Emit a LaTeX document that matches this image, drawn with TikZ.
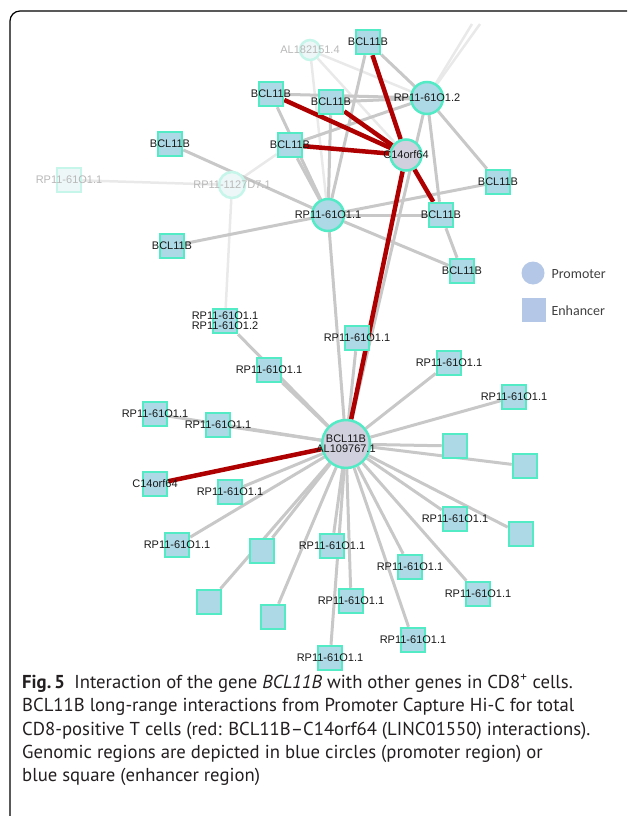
\documentclass[tikz,border=0pt]{standalone}
\usepackage{fontspec}
\setmainfont{PT Sans}
\newfontfamily\labfont{Liberation Sans}
\newfontfamily\legfont{Carlito}
\usepackage{xcolor}
\usepackage{tikz}
\usetikzlibrary{backgrounds}
\definecolor{sqfill}{HTML}{ADD8E6}
\definecolor{rim}{HTML}{52EBC5}
\definecolor{lavfill}{HTML}{D0D0DE}
\definecolor{linkgray}{HTML}{C8C8C8}
\definecolor{fadegray}{HTML}{E9E9E9}
\definecolor{hot}{HTML}{AE0000}
\definecolor{legblue}{HTML}{B4C7E7}
\definecolor{captext}{HTML}{231F20}
\definecolor{ghostrim}{HTML}{C6F5EA}
\definecolor{ghostfill}{HTML}{EEF7F8}
\tikzset{
  enh/.style={rectangle, draw=rim, fill=sqfill, line width=2.5pt, minimum size=24pt, inner sep=0pt},
  prom/.style={circle, draw=rim, fill=sqfill, line width=2.5pt, minimum size=32pt, inner sep=0pt},
  lav/.style={prom, fill=lavfill},
  ghostsq/.style={enh, draw=ghostrim, fill=ghostfill},
  ghostc/.style={circle, draw=ghostrim, fill=ghostfill, line width=2.5pt, inner sep=0pt},
  lab/.style={text=black!90, font=\labfont\fontsize{11}{10}\selectfont, align=center, inner sep=0pt},
  labg/.style={lab, text=black!28},
  link/.style={draw=linkgray, line width=3pt},
  faint/.style={draw=fadegray, line width=2.5pt},
  hotlink/.style={draw=hot, line width=4.5pt},
  legtext/.style={anchor=west, text=black!75, font=\legfont\fontsize{14}{16}\selectfont},
  capline/.style={anchor=base west, inner sep=0pt, text=captext, font=\fontsize{18.7}{22}\selectfont},
}

\begin{document}
\begin{tikzpicture}[x=1pt,y=-1pt]
\useasboundingbox (0,0) rectangle (627,816);
\draw[line width=1.2pt, rounded corners=10pt] (627,11) -- (10,11) -- (10,816);

\node[ghostc, minimum size=20pt, label={[labg]center:AL182151.4}] (al) at (310,50) {};
\node[ghostsq, label={[labg]center:RP11-61O1.1}] (rpF) at (69,180) {};
\node[ghostc, minimum size=26pt, label={[labg]center:RP11-1127D7.1}] (rpD) at (232,185) {};
\node[enh, label={[lab]center:BCL11B}] (bT) at (368,42) {};
\node[prom, label={[lab]center:RP11-61O1.2}] (rp2) at (427,98) {};
\node[enh, label={[lab]center:BCL11B}] (bA) at (271,94) {};
\node[enh, label={[lab]center:BCL11B}] (bB) at (331,102) {};
\node[enh, label={[lab]center:BCL11B}] (bC) at (290,145) {};
\node[lav, minimum size=31pt, label={[lab]center:C14orf64}] (c14) at (406,155) {};
\node[enh, label={[lab]center:BCL11B}] (bL) at (170,144) {};
\node[prom, label={[lab]center:RP11-61O1.1}] (rp1) at (328,215) {};
\node[enh, label={[lab]center:BCL11B}] (bR) at (498,182) {};
\node[enh, label={[lab]center:BCL11B}] (bM) at (441,215) {};
\node[enh, label={[lab]center:BCL11B}] (bD) at (462,271) {};
\node[enh, label={[lab]center:BCL11B}] (bLL) at (172,246) {};

\node[circle, fill=legblue, minimum size=23pt, inner sep=0pt] (legC) at (533,273) {};
\node[legtext] (legCt) at (548,274) {Promoter};
\node[rectangle, fill=legblue, minimum size=24pt, inner sep=0pt] (legS) at (534,310) {};
\node[legtext] (legSt) at (548,311) {Enhancer};

\node[enh, label={[lab]center:{RP11-61O1.1\\RP11-61O1.2}}] (s12) at (225,321) {};
\node[enh, label={[lab]center:RP11-61O1.1}] (q1) at (357,338) {};
\node[enh, label={[lab]center:RP11-61O1.1}] (q2) at (269,370) {};
\node[enh, label={[lab]center:RP11-61O1.1}] (q3) at (449,363) {};
\node[enh, label={[lab]center:RP11-61O1.1}] (q4) at (514,397) {};
\node[enh, label={[lab]center:RP11-61O1.1}] (q5) at (155,414) {};
\node[enh, label={[lab]center:RP11-61O1.1}] (q6) at (218,425) {};
\node[lav, minimum size=48pt, label={[lab]center:{BCL11B\\AL109767.1}}] (hub) at (346,444) {};
\node[enh] (e1) at (455,446) {};
\node[enh] (e2) at (525,466) {};
\node[enh, label={[lab]center:C14orf64}] (c14sq) at (155,484) {};
\node[enh, label={[lab]center:RP11-61O1.1}] (q7) at (230,492) {};
\node[enh, label={[lab]center:RP11-61O1.1}] (q8) at (455,519) {};
\node[enh] (e3) at (521,534) {};
\node[enh, label={[lab]center:RP11-61O1.1}] (q9) at (177,545) {};
\node[enh] (e4) at (262,551) {};
\node[enh, label={[lab]center:RP11-61O1.1}] (q10) at (332,546) {};
\node[enh, label={[lab]center:RP11-61O1.1}] (q11) at (410,567) {};
\node[enh, label={[lab]center:RP11-61O1.1}] (q12) at (478,594) {};
\node[enh] (e5) at (209,602) {};
\node[enh] (e6) at (273,617) {};
\node[enh, label={[lab]center:RP11-61O1.1}] (q13) at (351,601) {};
\node[enh, label={[lab]center:RP11-61O1.1}] (q14) at (413,640) {};
\node[enh, label={[lab]center:RP11-61O1.1}] (q15) at (330,658) {};

\coordinate (offA) at (472,24);
\coordinate (offB) at (480,24);

\begin{scope}[on background layer]
\draw[faint] (rpF) -- (rpD);
\draw[faint] (rpD) -- (s12);
\draw[faint] (rpD) -- (bC);
\draw[faint] (al) -- (rp2);
\draw[faint] (al) -- (rp1);
\draw[faint] (al) -- (c14);
\draw[faint] (rp2) -- (offA);
\draw[faint] (rp2) -- (offB);
\draw[link] (bA) -- (rp2);
\draw[link] (bB) -- (rp2);
\draw[link] (bT) -- (rp2);
\draw[link] (bC) -- (rp2);
\draw[link] (bT) -- (rp1);
\draw[link] (bA) -- (rp1);
\draw[link] (bB) -- (rp1);
\draw[link] (bC) -- (rp1);
\draw[link] (bL) -- (rp1);
\draw[link] (bLL) -- (rp1);
\draw[link] (rp1) -- (bR);
\draw[link] (rp1) -- (bM);
\draw[link] (rp1) -- (bD);
\draw[link] (rp1) -- (hub);
\draw[link] (rp2) -- (bM);
\draw[link] (rp2) -- (bR);
\draw[link] (bM) -- (bD);
\draw[link] (rp2) -- (hub);
\foreach \n in {s12,q1,q2,q3,q4,q5,q6,e1,e2,q7,q8,e3,q9,e4,q10,q11,q12,e5,e6,q13,q14,q15}
  \draw[link] (hub) -- (\n);
\draw[hotlink] (bT) -- (c14);
\draw[hotlink] (bA) -- (c14);
\draw[hotlink] (bB) -- (c14);
\draw[hotlink] (bC) -- (c14);
\draw[hotlink] (c14) -- (bM);
\draw[hotlink] (c14) -- (hub);
\draw[hotlink] (hub) -- (c14sq);
\end{scope}

\node[capline] (cap1) at (22,688) {\textbf{Fig.\,5}\hspace{0.5em}Interaction of the gene \textit{BCL11B} with other genes in CD8\textsuperscript{+} cells.};
\node[capline] (cap2) at (22,711.5) {BCL11B long-range interactions from Promoter Capture Hi-C for total};
\node[capline] (cap3) at (22,735) {CD8-positive T cells (red: BCL11B--C14orf64 (LINC01550) interactions).};
\node[capline] (cap4) at (22,758) {Genomic regions are depicted in blue circles (promoter region) or};
\node[capline] (cap5) at (22,781) {blue square (enhancer region)};
\end{tikzpicture}
\end{document}
